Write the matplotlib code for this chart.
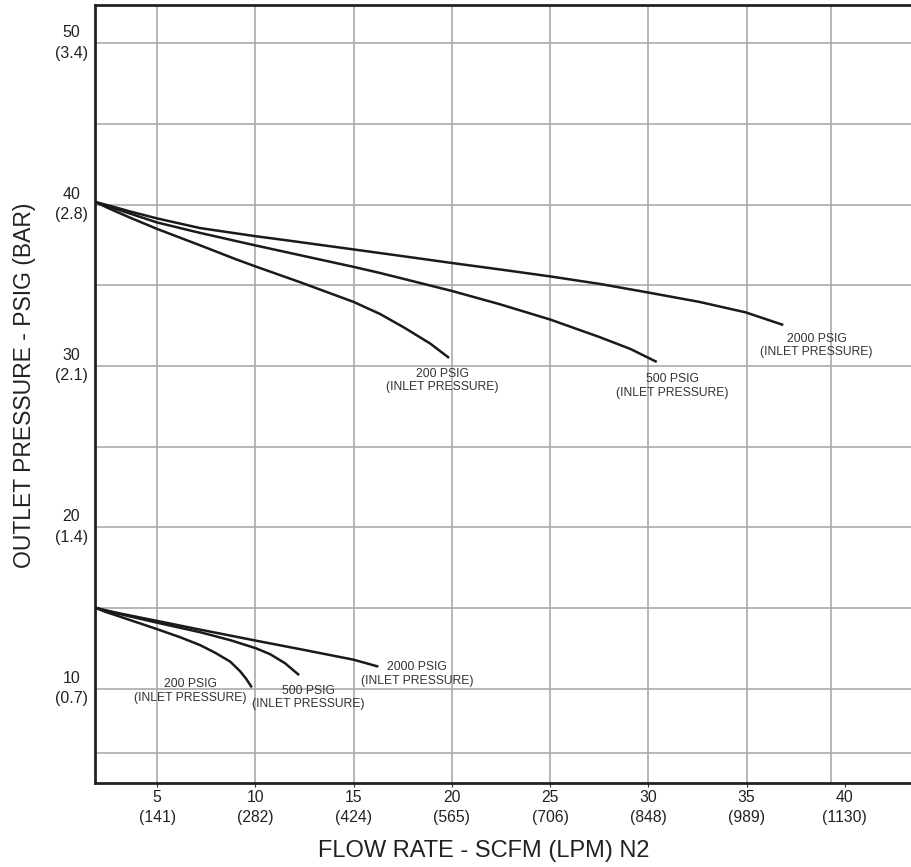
import matplotlib.pyplot as plt
import matplotlib.transforms as mtransforms

plt.rcParams['font.family'] = ['Liberation Sans', 'DejaVu Sans']

# curvas de pressao de saida (psig) x vazao (scfm) - grupo de cima
sup_200_x = [1.85, 2.6, 3.6, 5, 7.2, 8.97, 10, 12.3, 15, 16.35, 17.6, 18.9, 19.86]
sup_200_y = [40.16, 39.73, 39.20, 38.49, 37.47, 36.63, 36.17, 35.18, 33.97, 33.22, 32.36, 31.39, 30.50]
sup_500_x = [1.85, 2.6, 3.6, 5, 7.2, 10, 11.5, 15, 16.35, 20, 22.4, 25, 27.5, 29.1, 30.43]
sup_500_y = [40.16, 39.85, 39.45, 38.89, 38.24, 37.47, 37.07, 36.14, 35.76, 34.65, 33.84, 32.88, 31.80, 31.05, 30.25]
sup_2000_x = [1.85, 2.6, 3.6, 5, 7.2, 10, 11.5, 15, 17.4, 20, 22.45, 25, 27.55, 30, 32.6, 34.96, 36.87]
sup_2000_y = [40.16, 39.92, 39.58, 39.14, 38.54, 38.04, 37.80, 37.22, 36.82, 36.38, 35.98, 35.55, 35.08,
              34.55, 33.97, 33.32, 32.54]

# grupo de baixo
inf_200_x = [1.85, 2.35, 3.12, 5, 6.17, 7.19, 7.95, 8.72, 9.22, 9.53, 9.82]
inf_200_y = [15.03, 14.78, 14.47, 13.70, 13.20, 12.71, 12.24, 11.69, 11.10, 10.63, 10.09]
inf_500_x = [1.85, 2.35, 3.12, 5, 7.19, 8.72, 10.02, 10.75, 11.51, 12.23]
inf_500_y = [15.03, 14.85, 14.63, 14.10, 13.51, 13.02, 12.52, 12.15, 11.59, 10.85]
inf_2000_x = [1.85, 2.35, 3.12, 5, 7.19, 10.02, 12.28, 14.99, 16.26]
inf_2000_y = [15.03, 14.88, 14.67, 14.21, 13.67, 12.99, 12.46, 11.81, 11.38]

# rotulos das curvas
rotulos = ["200 PSIG\n(INLET PRESSURE)", "500 PSIG\n(INLET PRESSURE)", "2000 PSIG\n(INLET PRESSURE)",
           "200 PSIG\n(INLET PRESSURE)", "500 PSIG\n(INLET PRESSURE)", "2000 PSIG\n(INLET PRESSURE)"]
rot_x = [19.53, 31.21, 38.57, 6.68, 12.70, 18.22]
rot_y = [29.10, 28.76, 31.27, 9.89, 9.47, 10.91]

xticks = [5, 10, 15, 20, 25, 30, 35, 40]
xlabels = ["5\n(141)", "10\n(282)", "15\n(424)", "20\n(565)", "25\n(706)", "30\n(848)", "35\n(989)", "40\n(1130)"]
yticks = [10, 20, 30, 40, 50]
ylabels = ["10\n(0.7)", "20\n(1.4)", "30\n(2.1)", "40\n(2.8)", "50\n(3.4)"]
grade_x = [5, 10, 15, 20, 25, 30, 35, 39.28]
grade_y = [6, 10, 15, 20, 25, 30, 35, 40, 45, 50]

fig = plt.figure(figsize=(9.11, 8.67), dpi=100)
ax = fig.add_axes([95 / 911, 1 - 783 / 867, 1 - 95 / 911, (783 - 5) / 867])

for gx in grade_x:
    ax.axvline(gx, color="#aaaaaa", lw=1.2, zorder=1)
for gy in grade_y:
    ax.axhline(gy, color="#aaaaaa", lw=1.2, zorder=1)

for xs, ys in [(sup_200_x, sup_200_y), (sup_500_x, sup_500_y), (sup_2000_x, sup_2000_y),
               (inf_200_x, inf_200_y), (inf_500_x, inf_500_y), (inf_2000_x, inf_2000_y)]:
    ax.plot(xs, ys, color="#1a1a1a", lw=1.8, solid_capstyle="butt", solid_joinstyle="round", zorder=3)

for t, x, y in zip(rotulos, rot_x, rot_y):
    ax.text(x, y, t, ha="center", va="center", fontsize=8.7, color="#333333",
            linespacing=1.2, multialignment="center", zorder=4)

ax.set_xlim(1.84, 43.37)
ax.set_ylim(4.17, 52.36)
ax.set_xticks(xticks)
ax.set_xticklabels(xlabels, fontsize=11.3, color="#222222", linespacing=1.4)
ax.set_yticks(yticks)
ax.set_yticklabels(ylabels, fontsize=11.5, color="#222222", linespacing=1.45, multialignment="center")
ax.tick_params(axis="x", length=3, pad=2, color="#333333")
ax.tick_params(axis="y", length=0, pad=5)

# sobe um pouco os rotulos do eixo y
desloc = mtransforms.ScaledTranslation(0, 4.5 / 100, fig.dpi_scale_trans)
for lb in ax.get_yticklabels():
    lb.set_transform(lb.get_transform() + desloc)

for s in ["left", "bottom", "top"]:
    ax.spines[s].set_linewidth(2)
    ax.spines[s].set_color("#222222")
ax.spines["right"].set_visible(False)

fig.text(484 / 911, 1 - 851 / 867, "FLOW RATE - SCFM (LPM) N2",
         ha="center", va="center", fontsize=17, color="#222222")
fig.text(25 / 911, 1 - 385.5 / 867, "OUTLET PRESSURE - PSIG (BAR)", rotation=90,
         ha="center", va="center", fontsize=16.5, color="#222222")

fig.savefig("out.png", dpi=100)
